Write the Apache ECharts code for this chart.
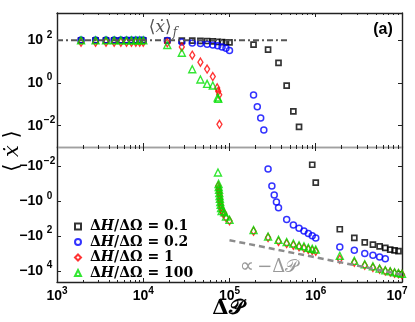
<!DOCTYPE html>
<html>
<head>
<meta charset="utf-8">
<script src="https://cdn.jsdelivr.net/npm/echarts@6/dist/echarts.min.js"></script>
<style>
  html, body { margin: 0; padding: 0; background: #fff; }
  #main { width: 415px; height: 322px; }
</style>
</head>
<body>
<div id="main"></div>
<script>
// ΔP values and <xdot> values for each ΔH/ΔΩ, negative values go to the lower panel
const p01 = [1900, 2800, 3700, 4600, 5500, 6400, 7300, 8200, 9100, 10000,
  19000, 28000, 37000, 46000, 55000, 64000, 73000, 82000, 91000, 100000,
  190000, 280000, 370000, 460000, 550000, 640000,
  910000, 1000000, 1900000, 2800000, 3700000, 4600000, 5500000, 6400000, 7300000, 8200000, 9100000];
const v01 = [100, 100, 100, 100, 100, 100, 100, 100, 100, 100,
  98, 97, 96, 95, 93, 90, 84, 82, 81, 80,
  63, 37, 8.7, 0.76, 0.047, 0.0087,
  -0.0079, -0.085, -40, -126, -229, -302, -380, -468, -589, -660, -724];

const p02 = [1900, 2800, 3700, 4600, 5500, 6400, 7300, 8200, 9100, 10000,
  19000, 28000, 37000, 46000, 55000, 64000, 73000, 82000, 91000, 100000,
  190000, 210000, 230000, 250000,
  280000, 310000, 330000, 350000, 370000, 460000, 550000, 640000, 730000, 820000, 910000, 1000000,
  1900000, 2800000, 3700000, 4600000, 5500000, 6400000];
const v02 = [104, 104, 104, 104, 104, 104, 104, 104, 104, 104,
  97, 84, 75, 70, 66, 60, 56, 49, 42, 33,
  0.27, 0.076, 0.023, 0.0062,
  -0.014, -0.13, -0.43, -1.1, -2.3, -11, -23, -35, -51, -69, -95, -126,
  -417, -646, -1000, -1260, -1550, -1950];

const p1 = [1900, 2800, 3700, 4600, 5500, 6400, 7300, 8200, 9100, 10000,
  19000, 28000, 37000, 46000, 55000, 64000, 72000, 74000, 76000, 76500,
  74000, 75000, 76000, 77000, 77500, 78000, 79000, 80000, 81500, 83000, 87000, 91000, 100000,
  190000, 280000, 370000, 460000, 550000, 640000, 730000, 820000, 910000, 1000000,
  1900000, 2800000, 3700000, 4600000, 5500000, 6400000, 7300000, 8200000, 9100000, 10000000];
const v1 = [82, 82, 82, 82, 82, 82, 82, 82, 82, 82,
  76, 49, 20, 9.5, 4.5, 2.0, 0.59, 0.41, 0.28, 0.0115,
  -0.13, -0.2, -0.3, -0.45, -0.7, -1.0, -1.5, -2.2, -3.4, -4.5, -4.8, -8.5, -13,
  -52, -120, -200, -263, -331, -398, -479, -575, -660, -741,
  -2090, -3160, -4680, -6310, -7940, -10000, -11500, -13200, -14500, -15800];

const p100 = [1900, 2800, 3700, 4600, 5500, 6400, 7300, 8200, 9100, 10000,
  19000, 28000, 37000, 46000, 55000, 64000, 73000, 74000,
  73500, 74700, 75000, 75700, 76200, 76800, 77400, 78200, 79000, 79800, 81000, 87000, 91000, 100000,
  190000, 280000, 370000, 460000, 550000, 640000, 730000, 820000, 910000, 1000000,
  1900000, 2800000, 3700000, 4600000, 5500000, 6400000, 7300000, 8200000, 9100000, 10000000];
const v100 = [100, 100, 100, 100, 100, 100, 100, 100, 100, 100,
  60, 26, 4.4, 1.45, 0.91, 0.76, 0.21, 0.18,
  -0.022, -0.10, -0.15, -0.22, -0.33, -0.49, -0.72, -1.1, -1.6, -2.4, -3.6, -4.2, -7.4, -11.5,
  -45, -105, -162, -214, -263, -331, -380, -468, -525, -589,
  -1320, -2630, -4070, -5370, -7240, -9120, -10500, -12000, -13200, -14500];

// reference lines
const freeP = [1000, 500000];
const freeV = [100, 100];
const powP = [100000, 10000000];
const powV = [-170, -16000];

const ratios = ['0.1', '0.2', '1', '100'];
const xTicks = [1e3, 1e4, 1e5, 1e6, 1e7];
const topTicks = [1e-2, 1, 1e2];
const botTicks = [1e-2, 1, 1e2, 1e4];

const minorTicks = [];
for (let d = 1e3; d < 1e7; d *= 10) {
  for (let k = 2; k <= 9; k++) minorTicks.push(k * d);
}

function split(p, v) {
  const top = [], bot = [];
  p.forEach((x, i) => {
    if (v[i] > 0) top.push([x, v[i]]);
    else bot.push([x, -v[i]]);
  });
  return { top, bot };
}

const DARK = '#222';
const MID = '#a0a0a0';

const lblBase = { fontFamily: 'Liberation Sans', fontWeight: 'bold', fontSize: 14, color: '#000' };
const lblSup = { fontFamily: 'Liberation Sans', fontWeight: 'bold', fontSize: 10, color: '#000', padding: [0, 0, 11, 0] };

function xAx(grid, pos, ticks, len, lineColor, withLabel) {
  return {
    type: 'log', gridIndex: grid, position: pos, min: 1e3, max: 1e7,
    axisLine: { show: !!lineColor, lineStyle: { color: lineColor || '#000', width: 1.4 } },
    axisTick: { show: true, inside: true, length: len, customValues: ticks, lineStyle: { color: DARK, width: 1 } },
    axisLabel: withLabel ? {
      customValues: xTicks, margin: 4,
      formatter: v => {
        const e = Math.round(Math.log10(v));
        return '{b|10}{s|' + e + '}' + (e === 7 ? '{p|}' : '');
      },
      rich: { b: lblBase, s: lblSup, p: { width: 10 } }
    } : { show: false },
    splitLine: { show: false }
  };
}

function yAx(grid, pos, min, max, ticks, inverse, lineColor, prefix) {
  return {
    type: 'log', gridIndex: grid, position: pos, min: min, max: max, inverse: inverse,
    axisLine: { show: true, lineStyle: { color: lineColor, width: 1.4 } },
    axisTick: { show: true, inside: true, length: 4, customValues: ticks, lineStyle: { color: DARK, width: 1 } },
    axisLabel: prefix !== null ? {
      customValues: ticks, margin: 1,
      formatter: v => {
        const e = Math.round(Math.log10(v));
        return '{b|' + prefix + '10}{s|' + (e < 0 ? '−' + (-e) : e) + '}';
      },
      rich: { b: lblBase, s: Object.assign({ width: 13, align: 'left' }, lblSup) }
    } : { show: false },
    splitLine: { show: false }
  };
}

const looks = [
  { symbol: 'rect', size: 5, color: '#000', bw: 1.7 },
  { symbol: 'circle', size: 6, color: '#0000ff', bw: 1.5 },
  { symbol: 'diamond', size: [5, 8], color: '#ff0000', bw: 1.4 },
  { symbol: 'triangle', size: 7, color: '#00e000', bw: 1.4 }
];
const sets = [split(p01, v01), split(p02, v02), split(p1, v1), split(p100, v100)];

const series = [
  {
    type: 'line', xAxisIndex: 0, yAxisIndex: 0, symbol: 'none', silent: true,
    data: freeP.map((x, i) => [x, freeV[i]]),
    lineStyle: { color: '#555', width: 2, type: [6, 3, 2, 3] }
  },
  {
    type: 'line', xAxisIndex: 4, yAxisIndex: 2, symbol: 'none', silent: true,
    data: powP.map((x, i) => [x, -powV[i]]),
    lineStyle: { color: '#8c8c8c', width: 2.5, type: [6, 4] }
  }
];
sets.forEach((s, k) => {
  const lk = looks[k];
  const common = {
    type: 'scatter', name: ratios[k], symbol: lk.symbol, symbolSize: lk.size,
    itemStyle: { color: 'rgba(255,255,255,0)', borderColor: lk.color, borderWidth: lk.bw }
  };
  series.push(Object.assign({ xAxisIndex: 0, yAxisIndex: 0, data: s.top }, common));
  series.push(Object.assign({ xAxisIndex: 4, yAxisIndex: 2, data: s.bot }, common));
});

const legendRich = {
  g: { fontFamily: 'DejaVu Serif', fontWeight: 'bold', fontSize: 14, lineHeight: 15, color: '#000' },
  g0: { fontFamily: 'DejaVu Serif', fontWeight: 'bold', fontSize: 14, lineHeight: 15, color: '#000', padding: [0, 0, 0, 4] },
  i: { fontFamily: 'DejaVu Serif', fontWeight: 'bold', fontStyle: 'italic', fontSize: 14, lineHeight: 15, color: '#000' }
};

const option = {
  animation: false,
  grid: [
    { left: 57, right: 13, top: 13, height: 134, outerBoundsMode: 'none' },
    { left: 57, right: 13, top: 147, height: 135, outerBoundsMode: 'none' }
  ],
  xAxis: [
    xAx(0, 'bottom', xTicks, 4, MID, false),
    xAx(0, 'top', xTicks, 4, DARK, false),
    xAx(0, 'bottom', minorTicks, 2, null, false),
    xAx(0, 'top', minorTicks, 2, null, false),
    xAx(1, 'bottom', xTicks, 4, DARK, true),
    xAx(1, 'top', xTicks, 4, MID, false),
    xAx(1, 'bottom', minorTicks, 2, null, false),
    xAx(1, 'top', minorTicks, 2, null, false)
  ],
  yAxis: [
    yAx(0, 'left', 1e-3, Math.pow(10, 3.28), topTicks, false, DARK, ''),
    yAx(0, 'right', 1e-3, Math.pow(10, 3.28), topTicks, false, DARK, null),
    yAx(1, 'left', Math.pow(10, -3.12), Math.pow(10, 4.63), botTicks, true, DARK, '−'),
    yAx(1, 'right', Math.pow(10, -3.12), Math.pow(10, 4.63), botTicks, true, DARK, null)
  ],
  legend: {
    data: ratios, orient: 'vertical', left: 74, top: 219, padding: 0,
    itemWidth: 6, itemHeight: 6, itemGap: 0.5,
    formatter: n => '{g0|Δ}{i|H}{g|/ΔΩ = ' + n + '}',
    textStyle: { fontSize: 14, lineHeight: 15, rich: legendRich }
  },
  graphic: [
    {
      type: 'text', x: 163, y: 28,
      style: {
        text: '{a|⟨}{x|ẋ}{a|⟩}{f|f}', align: 'center', verticalAlign: 'middle',
        rich: {
          a: { font: '17px "DejaVu Serif"', fill: '#555' },
          x: { font: 'italic 17px "DejaVu Serif"', fill: '#555' },
          f: { font: 'italic 12px "DejaVu Serif"', fill: '#555', padding: [10, 0, 0, 1] }
        }
      }
    },
    {
      type: 'text', x: 383, y: 30,
      style: { text: '(a)', font: 'bold 16px "Liberation Sans"', fill: '#000', align: 'center', verticalAlign: 'middle' }
    },
    {
      type: 'text', x: 269, y: 267,
      style: {
        text: '{o|∝} {t|−Δ𝒫}', align: 'center', verticalAlign: 'middle',
        rich: {
          o: { font: '20px "DejaVu Sans"', fill: '#999' },
          t: { font: '18px "DejaVu Serif"', fill: '#999' }
        }
      }
    },
    {
      type: 'text', x: 228, y: 309,
      style: { text: 'Δ𝒫', font: 'bold 21px "DejaVu Serif"', fill: '#000', align: 'center', verticalAlign: 'middle' }
    },
    {
      type: 'text', x: 13, y: 151, rotation: Math.PI / 2,
      style: {
        text: '{a|⟨ }{x|ẋ}{a| ⟩}', align: 'center', verticalAlign: 'middle',
        rich: {
          a: { font: '21px "DejaVu Serif"', fill: '#000' },
          x: { font: 'italic 21px "DejaVu Serif"', fill: '#000' }
        }
      }
    }
  ],
  series: series
};

const chart = echarts.init(document.getElementById('main'));
chart.setOption(option);
</script>
</body>
</html>
